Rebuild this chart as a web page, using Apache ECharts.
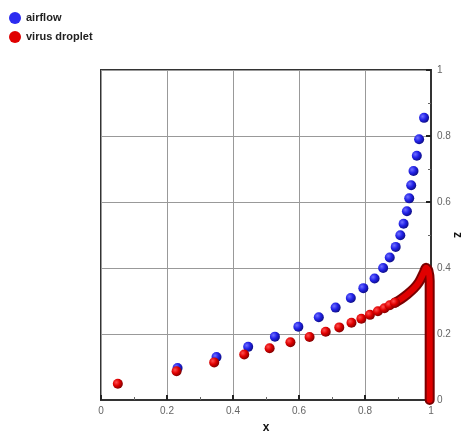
<!DOCTYPE html>
<html>
<head>
<meta charset="utf-8">
<script src="https://cdn.jsdelivr.net/npm/echarts@6/dist/echarts.min.js"></script>
<style>
html,body{margin:0;padding:0;background:#fff;}
#chart{width:463px;height:433px;}
</style>
</head>
<body>
<div id="chart"></div>
<script>
var seriesNames = ['airflow', 'virus droplet'];
var xTicks = [0, 0.2, 0.4, 0.6, 0.8, 1];
var zTicks = [0, 0.2, 0.4, 0.6, 0.8, 1];

var airflowX = [0.232,0.350,0.446,0.527,0.598,0.660,0.711,0.757,0.795,0.829,0.855,0.875,0.893,0.907,0.917,0.927,0.934,0.940,0.947,0.957,0.964,0.979];
var airflowZ = [0.097,0.130,0.161,0.192,0.222,0.251,0.280,0.309,0.339,0.368,0.400,0.432,0.464,0.499,0.534,0.572,0.611,0.651,0.694,0.740,0.790,0.855];

var dropletX = [0.051,0.229,0.343,0.434,0.511,0.574,0.632,0.681,0.722,0.759,0.789,0.815,0.839,0.859,0.875,0.891];
var dropletZ = [0.049,0.087,0.114,0.138,0.157,0.175,0.191,0.207,0.220,0.234,0.246,0.258,0.269,0.278,0.287,0.295];

var trailX = [0.891,0.909,0.929,0.949,0.964,0.978,0.985,0.992,0.996,0.996,0.996];
var trailZ = [0.295,0.306,0.321,0.339,0.358,0.386,0.401,0.392,0.361,0.200,0.000];

function zip(a, b){ return a.map(function(v,i){ return [v, b[i]]; }); }

var blueGrad = {type:'radial', x:0.35, y:0.35, r:0.7, colorStops:[{offset:0,color:'#7070ff'},{offset:0.5,color:'#2222e8'},{offset:1,color:'#0c0c80'}]};
var redGrad = {type:'radial', x:0.35, y:0.35, r:0.7, colorStops:[{offset:0,color:'#ff5050'},{offset:0.5,color:'#e00000'},{offset:1,color:'#7a0000'}]};

var chart = echarts.init(document.getElementById('chart'));
chart.setOption({
  animation:false,
  legend:{
    orient:'vertical', left:4, top:7, itemGap:7,
    icon:'circle', itemWidth:12, itemHeight:12,
    textStyle:{fontFamily:'Liberation Sans, Arial', fontSize:11, fontWeight:'bold', color:'#222'},
    data:[{name:seriesNames[0], itemStyle:{color:'#2b2bf0'}},{name:seriesNames[1], itemStyle:{color:'#e00000'}}]
  },
  grid:{left:101, top:70, width:330, height:330, show:true, borderColor:'#333', borderWidth:2, backgroundColor:'#fff', containLabel:false, outerBoundsMode:'none'},
  xAxis:{
    type:'value', min:0, max:1, interval:0.2,
    name:'x', nameLocation:'middle', nameGap:22, nameMoveOverlap:false,
    nameTextStyle:{fontFamily:'Liberation Sans, Arial', fontSize:12, fontWeight:'bold', color:'#111'},
    axisLine:{show:true, lineStyle:{color:'#333', width:2}},
    axisTick:{show:true, inside:true, length:5, lineStyle:{color:'#222', width:2}},
    minorTick:{show:true, splitNumber:2, length:3, lineStyle:{color:'#666'}},
    axisLabel:{fontFamily:'Liberation Sans, Arial', fontSize:10, color:'#666', margin:6, formatter:function(v){return xTicks.indexOf(+v.toFixed(1))>=0 ? String(+v.toFixed(1)) : '';}},
    splitLine:{show:true, lineStyle:{color:'#999', width:1}}
  },
  yAxis:{
    type:'value', min:0, max:1, interval:0.2, position:'right',
    name:'z', nameLocation:'middle', nameGap:20, nameRotate:-90, nameMoveOverlap:false,
    nameTextStyle:{fontFamily:'Liberation Sans, Arial', fontSize:12, fontWeight:'bold', color:'#111'},
    axisLine:{show:true, onZero:false, lineStyle:{color:'#333', width:2}},
    axisTick:{show:true, inside:true, length:5, lineStyle:{color:'#222', width:2}},
    minorTick:{show:true, splitNumber:2, length:3, lineStyle:{color:'#666'}},
    axisLabel:{fontFamily:'Liberation Sans, Arial', fontSize:10, color:'#666', margin:6, formatter:function(v){return zTicks.indexOf(+v.toFixed(1))>=0 ? String(+v.toFixed(1)) : '';}},
    splitLine:{show:true, lineStyle:{color:'#999', width:1}}
  },
  series:[
    {name:seriesNames[0], type:'scatter', symbol:'circle', symbolSize:10, data:zip(airflowX, airflowZ),
     itemStyle:{color:blueGrad, opacity:1}, z:3},
    {name:seriesNames[1], type:'line', data:zip(trailX, trailZ), symbol:'none', smooth:0.3,
     lineStyle:{color:'#7a0000', width:10, cap:'round', join:'round'}, z:2, legendHoverLink:false},
    {name:seriesNames[1], type:'line', data:zip(trailX, trailZ), symbol:'none', smooth:0.3,
     lineStyle:{color:'#e00000', width:6, cap:'round', join:'round'}, z:2},
    {name:seriesNames[1], type:'scatter', symbol:'circle', symbolSize:10, data:zip(dropletX, dropletZ),
     itemStyle:{color:redGrad, opacity:1}, z:4}
  ]
});
</script>
</body>
</html>
